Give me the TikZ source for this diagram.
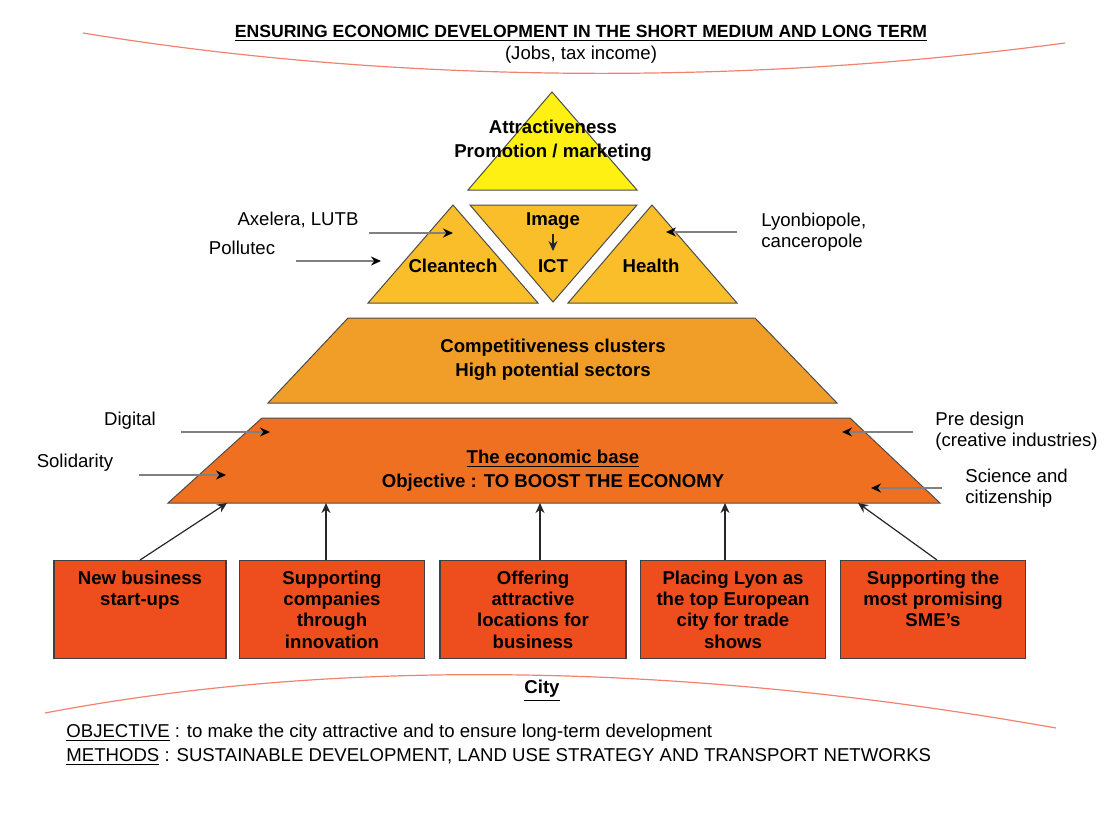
\documentclass[tikz,border=0pt]{standalone}
\usepackage{fontspec}
\setmainfont{Liberation Sans}
\usetikzlibrary{arrows.meta}

\definecolor{topyellow}{RGB}{255,240,20}
\definecolor{clustergold}{RGB}{250,190,42}
\definecolor{sectororange}{RGB}{240,158,40}
\definecolor{baseorange}{RGB}{240,112,34}
\definecolor{actionred}{RGB}{238,78,30}
\definecolor{horizonred}{RGB}{240,130,110}

\newcommand{\boxlines}[2]{\parbox[t][39pt][t]{#1}{\centering #2}}

\begin{document}
\begin{tikzpicture}[x=0.5pt, y=-0.5pt,
  every node/.style={inner sep=0pt, align=center, font=\fontsize{9.3}{10.5}\selectfont},
  tier/.style={font=\bfseries\fontsize{9.3}{12}\selectfont},
  slab/.style={draw=black!70, line width=0.5pt},
  feed/.style={draw=black!50, line width=0.7pt, -{Stealth[black, length=5pt, width=4.5pt]}},
  lift/.style={draw=black!85, line width=0.6pt, -{Stealth[length=5pt, width=4.5pt]}},
  horizon/.style={draw=horizonred, line width=0.6pt},
  actionbox/.style={draw=black!75, line width=0.6pt, fill=actionred, anchor=north,
    minimum height=49pt, font=\bfseries\fontsize{9.3}{10.7}\selectfont}]

\useasboundingbox (0,0) rectangle (1109,826);

% horizons
\draw[horizon] (83,33) .. controls (400,85) and (750,85) .. (1065,43);
\draw[horizon] (45,713) .. controls (350,655) and (700,665) .. (1056,728);

\node[font=\bfseries\fontsize{8.8}{10}\selectfont] (title) at (581,33)
  {\underline{ENSURING ECONOMIC DEVELOPMENT IN THE SHORT MEDIUM AND LONG TERM}};
\node (jobs) at (581,55) {(Jobs, tax income)};

% pyramid
\filldraw[slab, fill=topyellow] (552,92) -- (637,190) -- (468,190) -- cycle;
\filldraw[slab, fill=clustergold] (453,205) -- (538,303) -- (368,303) -- cycle;
\filldraw[slab, fill=clustergold] (470,205) -- (637,205) -- (553,302) -- cycle;
\filldraw[slab, fill=clustergold] (652,205) -- (737,303) -- (568,303) -- cycle;
\filldraw[slab, fill=sectororange] (348,318) -- (755,318) -- (837,403) -- (268,403) -- cycle;
\filldraw[slab, fill=baseorange] (262,418) -- (850,418) -- (940,503) -- (168,503) -- cycle;

\node[tier] (attract) at (553,141) {Attractiveness\\Promotion / marketing};
\node[tier] (image) at (553,221) {Image};
\node[tier] (ict) at (553,266) {ICT};
\node[tier] (cleantech) at (453,266) {Cleantech};
\node[tier] (health) at (651,266) {Health};
\node[tier] (clusters) at (553,360) {Competitiveness clusters\\High potential sectors};
\node[tier] (base) at (553,471) {\underline{The economic base}\\Objective : TO BOOST THE ECONOMY};

\draw[lift, shorten <=2pt, shorten >=4pt] (image) -- (ict);

% side inputs
\path
(298,220) node (axelera) {Axelera, LUTB} +(71,13) coordinate (axelera-from) +(155,13) coordinate (axelera-to)
(242,248) node (pollutec) {Pollutec} +(54,13) coordinate (pollutec-from) +(139,13) coordinate (pollutec-to)
(761,232) node[anchor=west, align=left] (lyonbio) {Lyonbiopole,\\canceropole}
(lyonbio.west) +(-24,0) coordinate (lyonbio-from) +(-95,0) coordinate (lyonbio-to)
(130,421) node (digital) {Digital} +(51,11) coordinate (digital-from) +(140,11) coordinate (digital-to)
(75,463) node (solidarity) {Solidarity} +(64,12) coordinate (solidarity-from) +(151,12) coordinate (solidarity-to)
(935,431) node[anchor=west, align=left] (predesign) {Pre design\\(creative industries)}
(predesign.west) +(-22,1) coordinate (predesign-from) +(-93,1) coordinate (predesign-to)
(965,488) node[anchor=west, align=left] (science) {Science and\\citizenship}
(science.west) +(-23,0) coordinate (science-from) +(-94,0) coordinate (science-to)
;

\begin{scope}[feed]
\draw (axelera-from) -- (axelera-to);
\draw (pollutec-from) -- (pollutec-to);
\draw (lyonbio-from) -- (lyonbio-to);
\draw (digital-from) -- (digital-to);
\draw (solidarity-from) -- (solidarity-to);
\draw (predesign-from) -- (predesign-to);
\draw (science-from) -- (science-to);
\end{scope}

% actions
\node[actionbox, minimum width=86pt] (startups) at (140,560) {\boxlines{82pt}{New business\\start-ups}};
\node[actionbox, minimum width=92.5pt] (innovation) at (332,560) {\boxlines{88pt}{Supporting\\companies\\through\\innovation}};
\node[actionbox, minimum width=93pt] (locations) at (533,560) {\boxlines{88pt}{Offering\\attractive\\locations for\\business}};
\node[actionbox, minimum width=92.5pt] (tradeshows) at (733,560) {\boxlines{88pt}{Placing Lyon as\\the top European\\city for trade\\shows}};
\node[actionbox, minimum width=92.5pt] (smes) at (933,560) {\boxlines{88pt}{Supporting the\\most promising\\SME's}};

\path (227,503) coordinate (startups-to) (326,503) coordinate (innovation-to)
(540,503) coordinate (locations-to) (725,503) coordinate (tradeshows-to) (858,503) coordinate (smes-to);

\begin{scope}[lift]
\draw (startups.north) -- (startups-to);
\draw (innovation.north -| innovation-to) -- (innovation-to);
\draw (locations.north -| locations-to) -- (locations-to);
\draw (tradeshows.north -| tradeshows-to) -- (tradeshows-to);
\draw ([xshift=2pt]smes.north) -- (smes-to);
\end{scope}

\node[font=\bfseries\fontsize{9.3}{11}\selectfont] (city) at (542,691) {\underline{City}};
\node[anchor=west, align=left, font=\fontsize{9.3}{12}\selectfont] (aims) at (66,745)
  {\underline{OBJECTIVE} : to make the city attractive and to ensure long-term development\\
   \underline{METHODS} : SUSTAINABLE DEVELOPMENT, LAND USE STRATEGY AND TRANSPORT NETWORKS};

\end{tikzpicture}
\end{document}
